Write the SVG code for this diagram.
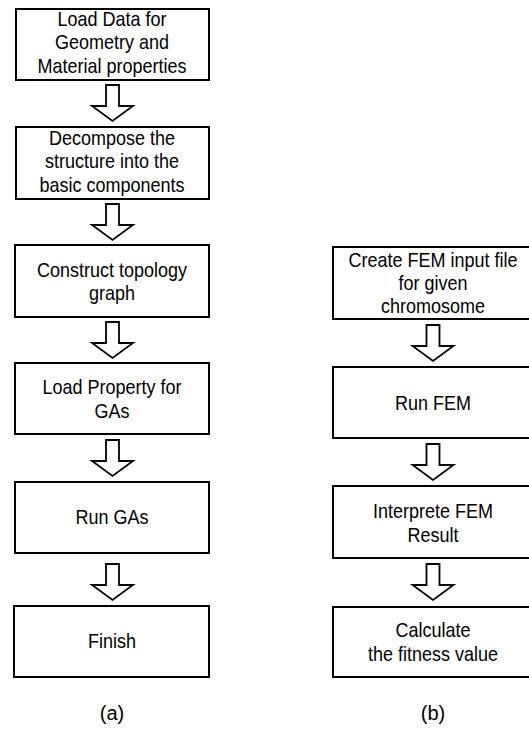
<svg xmlns="http://www.w3.org/2000/svg" width="529" height="729" viewBox="0 0 529 729">
<style>
.box{fill:#fff;stroke:#000;stroke-width:2}
.arr{fill:#fff;stroke:#000;stroke-width:1.8;stroke-linejoin:miter}
text{font-family:"Liberation Sans",Arial,sans-serif;font-size:20px;fill:#000;text-anchor:middle}
.cap{font-size:20px}
</style>
<defs>
<path id="darrow" d="M-6.5,0 H6.5 V21 H20.5 L0,36 L-20.5,21 H-6.5 Z"/>
</defs>
<rect width="529" height="729" fill="#fff"/>
<g id="connectors">
<use href="#darrow" class="arr" x="112.5" y="85"/>
<use href="#darrow" class="arr" x="112.5" y="204"/>
<use href="#darrow" class="arr" x="112.5" y="322"/>
<use href="#darrow" class="arr" x="112.5" y="440"/>
<use href="#darrow" class="arr" x="112.5" y="564"/>
<use href="#darrow" class="arr" x="433" y="325"/>
<use href="#darrow" class="arr" x="433" y="444"/>
<use href="#darrow" class="arr" x="433" y="564"/>
</g>
<g id="a1"><rect class="box" x="16" y="9" width="193" height="71"/>
<g transform="scale(0.9 1)"><text x="124.44" y="26">Load Data for</text><text x="124.44" y="49.5">Geometry and</text><text x="124.44" y="73">Material properties</text></g></g>
<g id="a2"><rect class="box" x="16" y="127" width="193" height="72"/>
<g transform="scale(0.9 1)"><text x="124.44" y="145.5">Decompose the</text><text x="124.44" y="168.5">structure into the</text><text x="124.44" y="192">basic components</text></g></g>
<g id="a3"><rect class="box" x="15" y="245" width="194" height="72"/>
<g transform="scale(0.9 1)"><text x="124.44" y="277">Construct topology</text><text x="124.44" y="300">graph</text></g></g>
<g id="a4"><rect class="box" x="15" y="363" width="194" height="71"/>
<g transform="scale(0.9 1)"><text x="124.44" y="394">Load Property for</text><text x="124.44" y="418">GAs</text></g></g>
<g id="a5"><rect class="box" x="15" y="482" width="194" height="71"/>
<g transform="scale(0.9 1)"><text x="124.44" y="524">Run GAs</text></g></g>
<g id="a6"><rect class="box" x="14" y="606" width="195" height="71"/>
<g transform="scale(0.9 1)"><text x="124.44" y="648">Finish</text></g></g>
<g id="b1"><rect class="box" x="333" y="247" width="200" height="72"/>
<g transform="scale(0.9 1)"><text x="481.11" y="267">Create FEM input file</text><text x="481.11" y="290">for given</text><text x="481.11" y="313">chromosome</text></g></g>
<g id="b2"><rect class="box" x="333" y="367" width="200" height="71"/>
<g transform="scale(0.9 1)"><text x="481.11" y="410">Run FEM</text></g></g>
<g id="b3"><rect class="box" x="333" y="486" width="200" height="72"/>
<g transform="scale(0.9 1)"><text x="481.11" y="518">Interprete FEM</text><text x="481.11" y="542">Result</text></g></g>
<g id="b4"><rect class="box" x="333" y="607" width="200" height="70"/>
<g transform="scale(0.9 1)"><text x="481.11" y="637">Calculate</text><text x="481.11" y="661">the fitness value</text></g></g>
<text class="cap" x="112" y="720">(a)</text>
<text class="cap" x="433" y="720">(b)</text>
</svg>
